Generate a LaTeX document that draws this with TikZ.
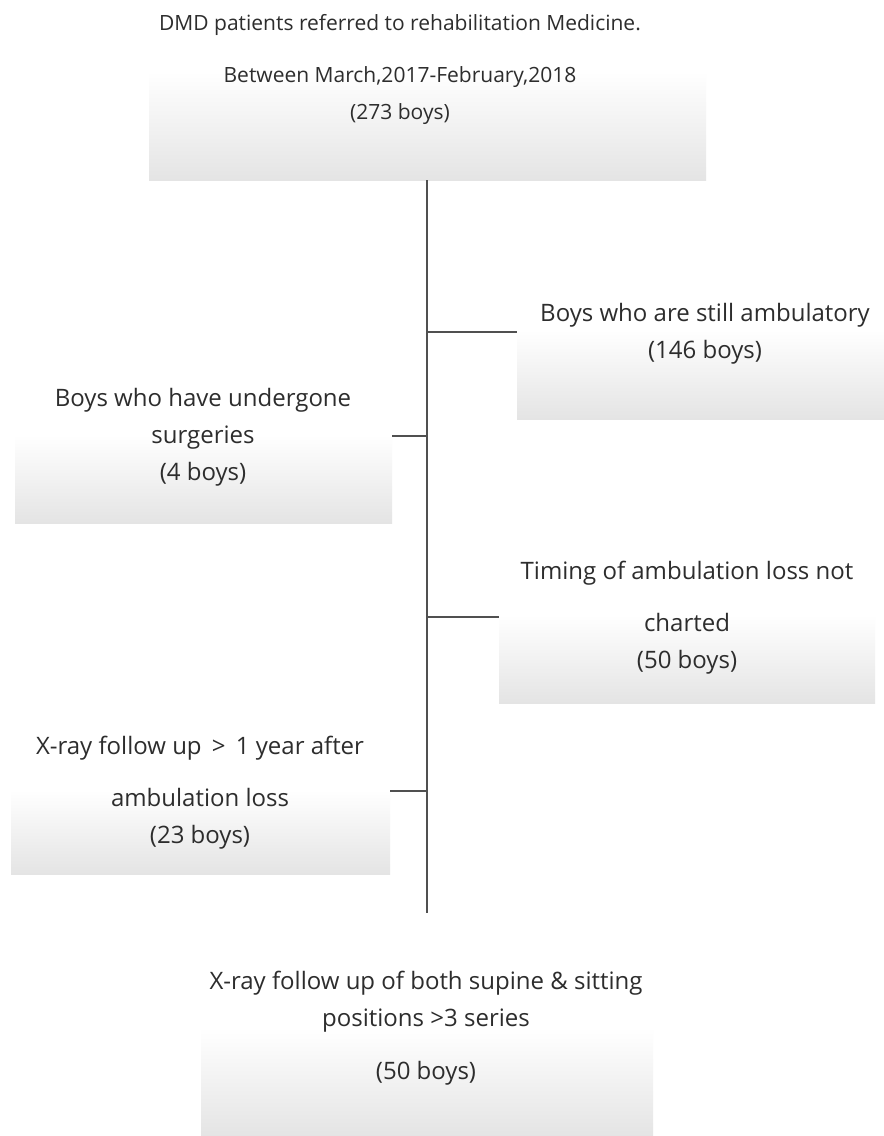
\documentclass[tikz,border=0pt]{standalone}
\usepackage{fontspec}
\setmainfont{Open Sans}
\begin{document}
\begin{tikzpicture}[x=1pt,y=-1pt,
  box/.style={rectangle, inner sep=0pt, outer sep=0pt, draw=none,
    top color=white, bottom color=boxgray},
  txt/.style={align=center, inner sep=0pt, text=txtgray,
    font=\fontsize{24}{37}\selectfont},
  toptxt/.style={txt, font=\fontsize{21}{37}\selectfont},
  trunk/.style={draw=linegray, line width=1.6pt},
  branch/.style={draw=linegray, line width=1.3pt}]
\definecolor{boxgray}{RGB}{228,228,228}
\definecolor{txtgray}{RGB}{45,45,45}
\definecolor{linegray}{RGB}{80,80,80}
\useasboundingbox[fill=white] (0,0) rectangle (884,1136);
% boxes
\node[box, minimum width=557pt, minimum height=108pt] (top) at (427.5,126) {};
\node[box, minimum width=367pt, minimum height=89pt] (r1) at (700.5,374.5) {};
\node[box, minimum width=377pt, minimum height=88pt] (l1) at (203.5,479) {};
\node[box, minimum width=376pt, minimum height=88pt] (r2) at (687,659) {};
\node[box, minimum width=379pt, minimum height=84pt] (l2) at (200.5,832) {};
\node[box, minimum width=452pt, minimum height=108pt] (bot) at (427,1082) {};
% texts
\node[toptxt] (ttop) at (400,69) {DMD patients referred to rehabilitation Medicine.\\[15pt]Between March,2017-February,2018\\(273 boys)};
\node[txt] (tr1) at (705,334) {Boys who are still ambulatory\\(146 boys)};
\node[txt] (tl1) at (203,437.5) {Boys who have undergone\\surgeries\\(4 boys)};
\node[txt] (tr2) at (687,618) {Timing of ambulation loss not\\[15pt]charted\\(50 boys)};
\node[txt] (tl2) at (200,793) {X-ray follow up \,>\, 1 year after\\[15pt]ambulation loss\\(23 boys)};
\node[txt] (tbot) at (426,1028) {X-ray follow up of both supine \& sitting\\positions >3 series\\[16pt](50 boys)};
% connectors
\coordinate (tend) at (427,913);
\coordinate (j1) at (427,332);
\coordinate (j2) at (427,436);
\coordinate (j3) at (427,617);
\coordinate (j4) at (427,791);
\draw[trunk] (top.south -| tend) -- (tend);
\draw[branch] (j1) -- (j1 -| r1.west);
\draw[branch] (j2) -- (j2 -| l1.east);
\draw[branch] (j3) -- (j3 -| r2.west);
\draw[branch] (j4) -- (j4 -| l2.east);
\end{tikzpicture}
\end{document}
